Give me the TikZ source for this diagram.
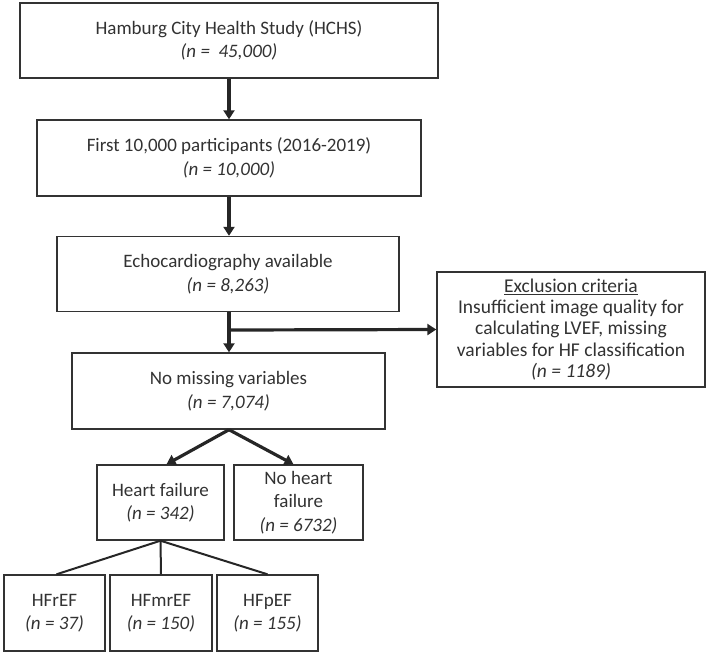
\documentclass[tikz,border=0pt]{standalone}
\usepackage{fontspec}
\setmainfont{Carlito}
\usepackage{xcolor}
\usetikzlibrary{arrows.meta,positioning,calc}
\definecolor{boxline}{RGB}{51,51,51}
\definecolor{boxtext}{RGB}{50,50,50}

\tikzset{
  stagebox/.style={draw=boxline, line width=1.4pt, align=center, text=boxtext,
    inner sep=2pt, font=\fontsize{19}{23.5}\selectfont},
  flow/.style={-{Triangle[length=9pt,width=11pt]}, line width=3.2pt, draw=black!85},
  split/.style={line width=2pt, draw=black!85}
}
\newcommand{\nval}[1]{\textit{(n = #1)}}

\begin{document}
\begin{tikzpicture}[x=1pt, y=-1pt]
    \useasboundingbox (0,0) rectangle (709,654);
    % main stages
    \node[stagebox, minimum width=418pt, minimum height=75pt] (hchs) at (229,40.5) {Hamburg City Health Study (HCHS)\\ \textit{(n =\ \ 45,000)}};
    \node[stagebox, minimum width=384pt, minimum height=76pt] (first) at (229,158) {First 10,000 participants (2016-2019)\\ \nval{10,000}};
    \node[stagebox, minimum width=342pt, minimum height=75pt] (echo) at (228,274) {Echocardiography available\\ \nval{8,263}};
    \node[stagebox, minimum width=268pt, minimum height=115pt, font=\fontsize{19.5}{21.3}\selectfont] (excl) at (571,329.5) {\underline{Exclusion criteria}\\ Insufficient image quality for\\ calculating LVEF, missing\\ variables for HF classification\\ \nval{1189}};
    \node[stagebox, minimum width=313pt, minimum height=76pt] (nomiss) at (228.5,391) {No missing variables\\ \nval{7,074}};
    % heart failure split
    \node[stagebox, minimum width=127pt, minimum height=75pt] (hf) at (160.5,502.5) {Heart failure\\ \nval{342}};
    \node[stagebox, minimum width=129pt, minimum height=75pt] (nohf) at (298.5,502.5) {No heart\\ failure\\ \nval{6732}};
    % HF subtypes
    \node[stagebox, minimum width=101pt, minimum height=76pt] (hfr) at (54.5,613) {HFrEF\\ \nval{37}};
    \node[stagebox, minimum width=102pt, minimum height=76pt] (hfmr) at (161,613) {HFmrEF\\ \nval{150}};
    \node[stagebox, minimum width=101pt, minimum height=76pt] (hfp) at (267.5,613) {HFpEF\\ \nval{155}};

    \coordinate (branch) at (229,330);

    \draw[flow] (hchs) -- (first);
    \draw[flow] (first) -- (echo.north -| first);
    \draw[flow] (echo.south -| first) -- (nomiss.north -| first);
    \draw[flow] (branch) -- (excl.west);
    \draw[flow] (nomiss.south -| first) -- ([xshift=6pt]hf.north);
    \draw[flow] (nomiss.south -| first) -- ([xshift=-5pt]nohf.north);
    \draw[split] (hf.south) -- ([xshift=2pt]hfr.north);
    \draw[split] (hf.south) -- (hfmr.north);
    \draw[split] (hf.south) -- (hfp.north);
\end{tikzpicture}
\end{document}
